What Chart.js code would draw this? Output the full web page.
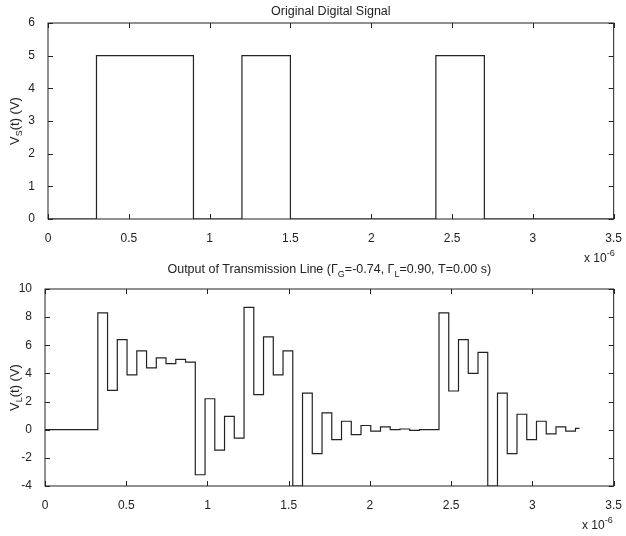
<!DOCTYPE html>
<html lang="en">
<head>
    <meta charset="UTF-8">
    <title>Transmission Line Signals</title>
    <script src="https://cdn.jsdelivr.net/npm/chart.js@4.4.0/dist/chart.umd.min.js"></script>
    <style>
        body { margin: 0; background: #fff; }
        #wrap { position: relative; width: 626px; height: 536px; }
        .box { position: absolute; left: 0; width: 626px; }
    </style>
</head>
<body>
<div id="wrap">
    <div class="box" style="top:0;height:262px"><canvas id="sourceChart"></canvas></div>
    <div class="box" style="top:262px;height:274px"><canvas id="loadChart"></canvas></div>
</div>
<script>
    // time axis in units of 1e-6 s
    var timeTicks = [0, 0.5, 1, 1.5, 2, 2.5, 3, 3.5];

    // original digital signal V_S(t)
    var vsTimes  = [0, 0.3, 0.9, 1.2, 1.5, 2.4, 2.7, 3.5];
    var vsValues = [0, 5,   0,   5,   0,   5,   0,   0];
    var vsTicks  = [0, 1, 2, 3, 4, 5, 6];

    // load voltage V_L(t), each value holds from its time until the next one
    var vlTimes = [
        0, 0.325, 0.385, 0.445, 0.505, 0.565, 0.625, 0.685, 0.745, 0.805, 0.865,
        0.925, 0.985, 1.045, 1.105, 1.165,
        1.225, 1.285, 1.345, 1.405, 1.465,
        1.525, 1.585, 1.645, 1.705, 1.765, 1.825, 1.885, 1.945, 2.005, 2.065, 2.125, 2.185, 2.245, 2.305, 2.365,
        2.425, 2.485, 2.545, 2.605, 2.665,
        2.725, 2.785, 2.845, 2.905, 2.965, 3.025, 3.085, 3.145, 3.205, 3.265,
        3.29
    ];
    var vlValues = [
        0, 8.3, 2.8, 6.4, 3.9, 5.6, 4.4, 5.1, 4.7, 5.0, 4.8,
        -3.2, 2.2, -1.45, 0.95, -0.6,
        8.7, 2.5, 6.6, 3.9, 5.6,
        -4.0, 2.6, -1.7, 1.2, -0.7, 0.6, -0.35, 0.3, -0.1, 0.2, 0.0, 0.05, -0.05, 0.0, 0.0,
        8.3, 2.75, 6.4, 4.0, 5.5,
        -4.0, 2.6, -1.7, 1.1, -0.7, 0.6, -0.3, 0.2, -0.1, 0.1,
        0.1
    ];
    var vlTicks = [-4, -2, 0, 2, 4, 6, 8, 10];

    var ink = '#222';
    var fontName = '"Liberation Sans", Arial, sans-serif';

    function toPoints(xs, ys) {
        var pts = [];
        for (var i = 0; i < xs.length; i++) pts.push({x: xs[i], y: ys[i]});
        return pts;
    }

    // draws text pieces with sub/superscripts, centred on x
    function drawRich(ctx, parts, x, y, size, align) {
        var small = Math.round(size * 0.72);
        var total = 0;
        parts.forEach(function(p) {
            ctx.font = (p.sub || p.sup ? small : size) + 'px ' + fontName;
            p.w = ctx.measureText(p.t).width;
            total += p.w;
        });
        var cx = align === 'left' ? x : x - total / 2;
        ctx.textBaseline = 'middle';
        ctx.textAlign = 'left';
        parts.forEach(function(p) {
            ctx.font = (p.sub || p.sup ? small : size) + 'px ' + fontName;
            var dy = p.sub ? size * 0.35 : (p.sup ? -size * 0.45 : 0);
            ctx.fillText(p.t, cx, y + dy);
            cx += p.w;
        });
    }

    var boxPlugin = {
        id: 'matlabBox',
        afterDraw: function(chart, args, o) {
            var ctx = chart.ctx, a = chart.chartArea;
            var sx = chart.scales.x, sy = chart.scales.y;
            ctx.save();
            ctx.strokeStyle = ink;
            ctx.lineWidth = 1;
            ctx.strokeRect(a.left, a.top, a.right - a.left, a.bottom - a.top);
            ctx.beginPath();
            sx.ticks.forEach(function(t) {
                var px = Math.round(sx.getPixelForValue(t.value)) + 0.5;
                ctx.moveTo(px, a.bottom); ctx.lineTo(px, a.bottom - 5);
                ctx.moveTo(px, a.top); ctx.lineTo(px, a.top + 5);
            });
            sy.ticks.forEach(function(t) {
                var py = Math.round(sy.getPixelForValue(t.value)) + 0.5;
                ctx.moveTo(a.left, py); ctx.lineTo(a.left + 5, py);
                ctx.moveTo(a.right, py); ctx.lineTo(a.right - 5, py);
            });
            ctx.stroke();

            ctx.fillStyle = ink;
            drawRich(ctx, o.title, (a.left + a.right) / 2, o.titleY, 12.5);
            drawRich(ctx, [{t: 'x 10'}, {t: '-6', sup: true}], o.expX, o.expY, 12, 'left');

            ctx.translate(15, (a.top + a.bottom) / 2);
            ctx.rotate(-Math.PI / 2);
            drawRich(ctx, o.ylabel, 0, 0, 13);
            ctx.restore();
        }
    };

    function makeChart(id, pts, yMin, yMax, yTicks, box, plugOpts) {
        var ctx = document.getElementById(id).getContext('2d');
        return new Chart(ctx, {
            type: 'line',
            data: {
                datasets: [{
                    data: pts,
                    borderColor: ink,
                    borderWidth: 1.2,
                    pointRadius: 0,
                    stepped: true,
                    fill: false
                }]
            },
            options: {
                responsive: true,
                maintainAspectRatio: false,
                animation: false,
                layout: { padding: { top: box.top, right: box.right, left: 0, bottom: 0 } },
                plugins: {
                    legend: { display: false },
                    tooltip: { enabled: false },
                    matlabBox: plugOpts
                },
                scales: {
                    x: {
                        type: 'linear', min: 0, max: 3.5,
                        afterBuildTicks: function(s) { s.ticks = timeTicks.map(function(v) { return {value: v}; }); },
                        afterFit: function(s) { s.height = box.bottom; },
                        grid: { display: false },
                        border: { display: false },
                        ticks: { color: ink, padding: 4, font: { family: fontName, size: 12 }, maxRotation: 0,
                                 callback: function(v) { return String(v); } }
                    },
                    y: {
                        min: yMin, max: yMax,
                        afterBuildTicks: function(s) { s.ticks = yTicks.map(function(v) { return {value: v}; }); },
                        afterFit: function(s) { s.width = box.left; },
                        grid: { display: false },
                        border: { display: false },
                        ticks: { color: ink, padding: 5, font: { family: fontName, size: 12 },
                                 callback: function(v) { return String(v); } }
                    }
                }
            },
            plugins: [boxPlugin]
        });
    }

    window.sourceChart = makeChart('sourceChart', toPoints(vsTimes, vsValues), 0, 6, vsTicks,
        { top: 23, right: 10, left: 48, bottom: 43 },
        { title: [{t: 'Original Digital Signal'}], titleY: 12, expX: 584, expY: 259,
          ylabel: [{t: 'V'}, {t: 'S', sub: true}, {t: '(t) (V)'}] });

    window.loadChart = makeChart('loadChart', toPoints(vlTimes, vlValues), -4, 10, vlTicks,
        { top: 27, right: 11, left: 45, bottom: 50 },
        { title: [{t: 'Output of Transmission Line ('}, {t: '\u0393'}, {t: 'G', sub: true}, {t: '=-0.74, '},
                  {t: '\u0393'}, {t: 'L', sub: true}, {t: '=0.90, T=0.00 s)'}],
          titleY: 8, expX: 582, expY: 264,
          ylabel: [{t: 'V'}, {t: 'L', sub: true}, {t: '(t) (V)'}] });
</script>
</body>
</html>
